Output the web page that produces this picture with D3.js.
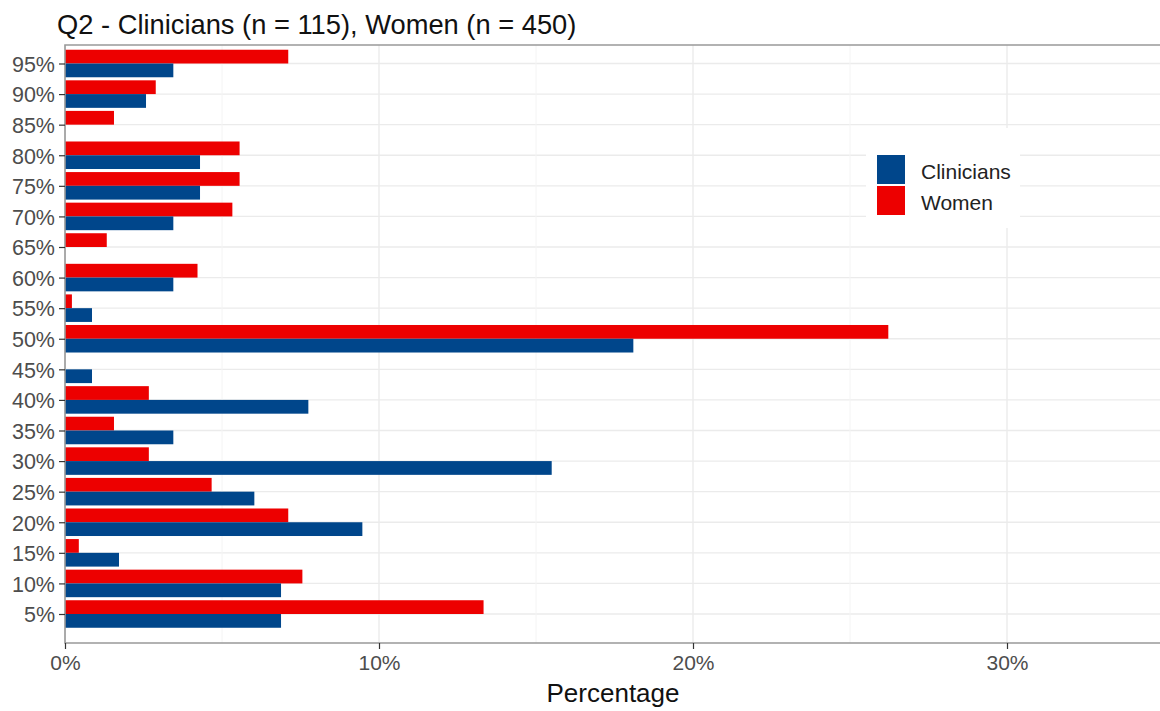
<!DOCTYPE html>
<html><head><meta charset="utf-8">
<script src="https://cdn.jsdelivr.net/npm/d3@7"></script>
<style>body{margin:0;background:#fff}svg{display:block;font-family:"Liberation Sans",Arial,sans-serif}</style>
</head><body><svg id="c" width="1160" height="711"></svg>
<script>
const categories = ["95%","90%","85%","80%","75%","70%","65%","60%","55%","50%","45%","40%","35%","30%","25%","20%","15%","10%","5%"];
const clinicians = [3.45,2.58,0,4.3,4.3,3.45,0,3.45,0.86,18.1,0.86,7.75,3.45,15.5,6.03,9.47,1.72,6.88,6.88];
const women      = [7.11,2.89,1.56,5.56,5.56,5.33,1.33,4.22,0.22,26.22,0,2.67,1.56,2.67,4.67,7.11,0.44,7.56,13.33];
const seriesNames = ["Clinicians","Women"];
const seriesColors = ["#00468B","#ED0000"];
const xMajor = [0,10,20,30];
const xMinor = [5,15,25];
const titleText = "Q2 - Clinicians (n = 115), Women (n = 450)";
const xTitle = "Percentage";

const svg = d3.select("#c");
const L = 65, R = 1160, T = 45, B = 643;
const x = d3.scaleLinear().domain([0, (R - L) / 31.4]).range([L, R]);
const y = d3.scalePoint().domain(categories).range([63.5, 614]);
const step = y.step();
const barH = step * 0.9 / 2;

// gridlines
const g = svg.append("g");
g.selectAll(".hg").data(categories).join("line")
  .attr("x1", L).attr("x2", R).attr("y1", d => y(d)).attr("y2", d => y(d))
  .attr("stroke", "#ebebeb").attr("stroke-width", 1.4);
g.selectAll(".mg").data(xMinor).join("line")
  .attr("x1", d => x(d)).attr("x2", d => x(d)).attr("y1", T).attr("y2", B)
  .attr("stroke", "#f4f4f4").attr("stroke-width", 1);
g.selectAll(".vg").data(xMajor).join("line")
  .attr("x1", d => x(d)).attr("x2", d => x(d)).attr("y1", T).attr("y2", B)
  .attr("stroke", "#ebebeb").attr("stroke-width", 1.4);

// bars
const bars = svg.append("g");
bars.selectAll(".w").data(categories).join("rect")
  .attr("x", x(0)).attr("y", d => y(d) - barH)
  .attr("width", (d, i) => x(women[i]) - x(0)).attr("height", barH)
  .attr("fill", seriesColors[1]);
bars.selectAll(".c").data(categories).join("rect")
  .attr("x", x(0)).attr("y", d => y(d))
  .attr("width", (d, i) => x(clinicians[i]) - x(0)).attr("height", barH)
  .attr("fill", seriesColors[0]);

// panel border (top, left, bottom)
svg.append("path").attr("d", `M${R},${T}H${L}V${B}H${R}`)
  .attr("fill", "none").attr("stroke", "#999").attr("stroke-width", 1.6);

// y axis
const ya = svg.append("g").attr("transform", `translate(${L},0)`)
  .call(d3.axisLeft(y).tickSize(6).tickPadding(4));
ya.select(".domain").remove();
ya.selectAll(".tick line").attr("stroke", "#333").attr("stroke-width", 1.2);
ya.selectAll(".tick text").attr("fill", "#4d4d4d").style("font-size", "21.5px").attr("dy", "0.36em");

// x axis
const xa = svg.append("g").attr("transform", `translate(0,${B})`)
  .call(d3.axisBottom(x).tickValues(xMajor).tickFormat(d => d + "%").tickSize(6).tickPadding(3));
xa.select(".domain").remove();
xa.selectAll(".tick line").attr("stroke", "#333").attr("stroke-width", 1.2);
xa.selectAll(".tick text").attr("fill", "#4d4d4d").style("font-size", "21px").attr("dy", "0.85em");

// titles
svg.append("text").attr("x", 57).attr("y", 34).text(titleText)
  .style("font-size", "27.3px").attr("fill", "#111");
svg.append("text").attr("x", 613).attr("y", 702).attr("text-anchor", "middle")
  .text(xTitle).style("font-size", "26px").attr("fill", "#111");

// legend
const lg = svg.append("g");
lg.append("rect").attr("x", 866).attr("y", 128).attr("width", 154).attr("height", 100).attr("fill", "#fff");
const order = [0, 1];
lg.selectAll(".k").data(order).join("rect")
  .attr("x", 877).attr("y", (d, i) => 155 + i * 31).attr("width", 28).attr("height", 29)
  .attr("fill", d => seriesColors[d]);
lg.selectAll(".t").data(order).join("text")
  .attr("x", 921).attr("y", (d, i) => 171.5 + i * 31).attr("dy", "0.35em")
  .text(d => seriesNames[d]).style("font-size", "21px").attr("fill", "#222");
</script></body></html>
